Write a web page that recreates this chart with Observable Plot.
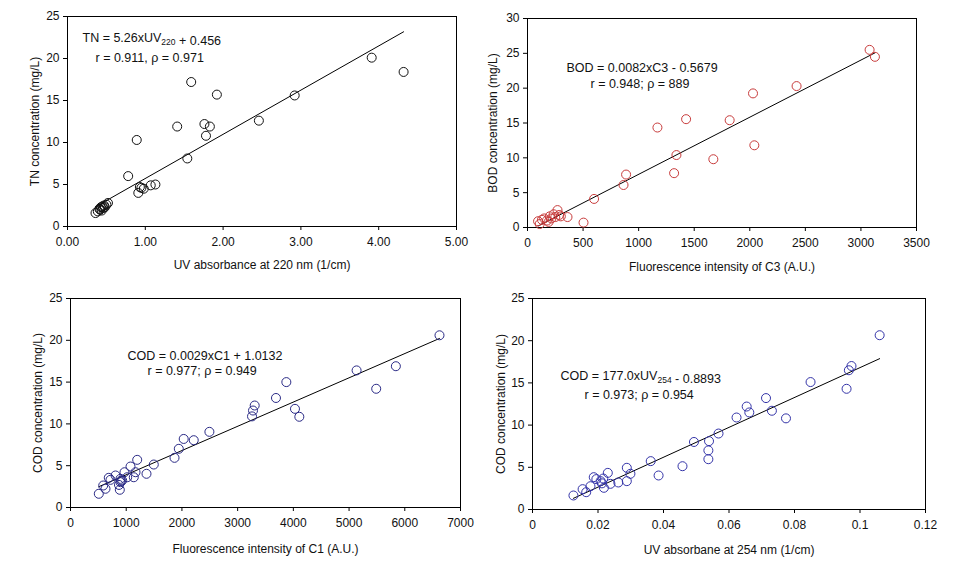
<!DOCTYPE html>
<html>
<head>
<meta charset="utf-8">
<script src="https://cdn.jsdelivr.net/npm/d3@7"></script>
<script src="https://cdn.jsdelivr.net/npm/@observablehq/plot@0.6"></script>
<style>
  html, body { margin: 0; padding: 0; background: #fff; }
  #wrap { position: relative; width: 957px; height: 571px; overflow: hidden; }
  .panel { position: absolute; }
  .panel svg { font-family: "Liberation Sans", Arial, sans-serif; }
</style>
</head>
<body>
<div id="wrap">
  <div class="panel" id="p1" style="left:0px;top:0px"></div>
  <div class="panel" id="p2" style="left:477px;top:0px"></div>
  <div class="panel" id="p3" style="left:0px;top:285px"></div>
  <div class="panel" id="p4" style="left:477px;top:285px"></div>
</div>
<script>
// ---------- Panel 1: TN vs UV220 ----------
const tnUV220 = [0.36,0.39,0.41,0.42,0.43,0.45,0.47,0.50,0.52,0.44,0.46,0.48,
  0.78,0.89,0.91,0.93,0.95,0.98,1.07,1.13,1.41,1.54,1.59,1.76,1.78,1.83,1.92,2.46,2.92,3.91,4.32];
const tnConc = [1.6,1.8,2.1,2.0,2.3,2.4,2.5,2.6,2.8,1.9,2.2,2.3,
  6.0,10.3,4.0,4.7,4.6,4.5,4.9,5.0,11.9,8.1,17.2,12.2,10.8,11.9,15.7,12.6,15.6,20.1,18.4];
const tnFit = [5.26, 0.456];

// ---------- Panel 2: BOD vs C3 ----------
const bodC3 = [95,110,130,150,175,190,200,215,235,250,270,285,300,360,
  504,599,864,887,1169,1319,1340,1427,1672,1819,2029,2041,2421,3078,3126];
const bodConc = [0.9,0.5,1.1,1.3,1.0,0.8,1.6,1.3,1.9,1.5,2.5,1.8,1.6,1.5,
  0.7,4.1,6.1,7.6,14.35,7.8,10.4,15.55,9.8,15.4,19.25,11.8,20.3,25.5,24.5];
const bodFit = [0.0082, -0.5679];

// ---------- Panel 3: COD vs C1 ----------
const codC1 = [508,587,628,687,718,808,897,897,928,885,969,1018,1077,1136,1167,1197,
  1364,1495,1867,1944,2032,2212,2493,3258,3276,3306,3688,3874,4029,4107,5135,5487,5840,6623,870,905];
const codConcC1 = [1.64,2.63,2.24,3.55,3.31,3.83,3.43,3.03,3.23,2.12,4.22,3.62,4.9,3.62,4.22,5.7,
  4.03,5.14,5.94,7.02,8.2,8.05,9.05,10.9,11.6,12.2,13.1,15.0,11.8,10.85,16.4,14.2,16.9,20.6,2.7,3.2];
const codC1Fit = [0.0029, 1.0132];

// ---------- Panel 4: COD vs UV254 ----------
const codUV254 = [0.0125,0.0153,0.0164,0.0177,0.0187,0.0195,0.0208,0.0216,0.0218,0.0230,0.0238,
  0.0262,0.0288,0.0288,0.0299,0.0361,0.0385,0.0458,0.0493,0.0537,0.0537,0.0539,0.0568,0.0623,
  0.0654,0.0662,0.0713,0.0731,0.0774,0.0849,0.0959,0.0966,0.0974,0.1060,0.0212];
const codConcUV = [1.66,2.41,2.05,2.76,3.83,3.6,3.36,3.67,2.57,4.34,3.04,
  3.2,4.94,3.36,4.23,5.73,4.03,5.13,8.0,5.96,7.0,8.1,9.0,10.9,
  12.2,11.5,13.2,11.7,10.8,15.1,14.3,16.5,17.0,20.65,3.1];
const codUVFit = [177.0, -0.8893];

// ---------- helpers ----------
function fitEnds(xs, coef) {
  const [a, b] = d3.extent(xs);
  return [a, b].map(x => ({x, y: coef[0] * x + coef[1]}));
}

// replace "_{...}" in text with subscript tspans
function applySubscripts(svg) {
  d3.select(svg).selectAll("text").each(function() {
    const t = this.textContent;
    if (!t.includes("_{")) return;
    const parts = t.split(/(_\{[^}]*\})/);
    const sel = d3.select(this);
    sel.text(null);
    parts.forEach(p => {
      if (!p) return;
      if (p.startsWith("_{")) {
        sel.append("tspan").attr("font-size", 8.5).attr("dy", 3).text(p.slice(2, -1));
        sel.append("tspan").attr("dy", -3).text("");
      } else {
        sel.append("tspan").text(p);
      }
    });
  });
}

function panel(el, cfg) {
  const data = cfg.xs.map((x, i) => ({x, y: cfg.ys[i]}));
  const chart = Plot.plot({
    width: cfg.width, height: cfg.height,
    marginLeft: cfg.ml, marginRight: cfg.mr, marginTop: cfg.mt, marginBottom: cfg.mb,
    style: {fontSize: "12px", color: "#111", background: "transparent"},
    x: {domain: cfg.xDomain, ticks: cfg.xTicks},
    y: {domain: cfg.yDomain, ticks: cfg.yTicks},
    marks: [
      Plot.frame({stroke: "#000", strokeWidth: 1}),
      Plot.axisX({ticks: cfg.xTicks, tickFormat: cfg.xFormat, tickSize: 4, tickPadding: 7,
        label: cfg.xLabel, labelAnchor: "center", labelArrow: "none", labelOffset: cfg.xLabelOffset,
        stroke: "#000"}),
      Plot.axisY({ticks: cfg.yTicks, tickFormat: d => String(d), tickSize: 4, tickPadding: 4,
        label: cfg.yLabel, labelAnchor: "center", labelArrow: "none", labelOffset: cfg.yLabelOffset,
        stroke: "#000"}),
      Plot.line(fitEnds(cfg.xs, cfg.fit), {x: "x", y: "y", stroke: "#000", strokeWidth: 1}),
      Plot.dot(data, {x: "x", y: "y", r: 4.5, stroke: cfg.color, strokeWidth: 1, fill: "none"}),
      Plot.text([cfg.eq1], {frameAnchor: "top-left", dx: cfg.eq1dx, dy: cfg.eq1dy,
        textAnchor: "start", lineAnchor: "middle", fontSize: 12.5, fill: "#111"}),
      Plot.text([cfg.eq2], {frameAnchor: "top-left", dx: cfg.eq2dx, dy: cfg.eq2dy,
        textAnchor: "start", lineAnchor: "middle", fontSize: 12.5, fill: "#111"})
    ]
  });
  applySubscripts(chart);
  document.getElementById(el).appendChild(chart);
}

panel("p1", {
  width: 478, height: 285, ml: 67, mr: 22, mt: 16, mb: 59,
  xs: tnUV220, ys: tnConc, fit: tnFit,
  xDomain: [0, 5], xTicks: [0, 1, 2, 3, 4, 5], xFormat: d3.format(".2f"),
  yDomain: [0, 25], yTicks: [0, 5, 10, 15, 20, 25],
  xLabel: "UV absorbance at 220 nm (1/cm)", yLabel: "TN concentration (mg/L)",
  xLabelOffset: 42, yLabelOffset: 37, color: "#111",
  eq1: "TN = 5.26xUV_{220} + 0.456", eq1dx: 15, eq1dy: 21,
  eq2: "r = 0.911, ρ = 0.971", eq2dx: 28, eq2dy: 41
});

panel("p2", {
  width: 480, height: 285, ml: 50, mr: 41, mt: 18, mb: 58,
  xs: bodC3, ys: bodConc, fit: bodFit,
  xDomain: [0, 3500], xTicks: [0, 500, 1000, 1500, 2000, 2500, 3000, 3500], xFormat: d => String(d),
  yDomain: [0, 30], yTicks: [0, 5, 10, 15, 20, 25, 30],
  xLabel: "Fluorescence intensity of C3 (A.U.)", yLabel: "BOD concentration (mg/L)",
  xLabelOffset: 43, yLabelOffset: 39, color: "#c83c3c",
  eq1: "BOD = 0.0082xC3 - 0.5679", eq1dx: 39, eq1dy: 49,
  eq2: "r = 0.948; ρ = 889", eq2dx: 63, eq2dy: 65
});

panel("p3", {
  width: 478, height: 286, ml: 70, mr: 18, mt: 13, mb: 64,
  xs: codC1, ys: codConcC1, fit: codC1Fit,
  xDomain: [0, 7000], xTicks: [0, 1000, 2000, 3000, 4000, 5000, 6000, 7000], xFormat: d => String(d),
  yDomain: [0, 25], yTicks: [0, 5, 10, 15, 20, 25],
  xLabel: "Fluorescence intensity of C1 (A.U.)", yLabel: "COD concentration (mg/L)",
  xLabelOffset: 45, yLabelOffset: 37, color: "#2a2a86",
  eq1: "COD = 0.0029xC1 + 1.0132", eq1dx: 57, eq1dy: 57,
  eq2: "r = 0.977; ρ = 0.949", eq2dx: 77, eq2dy: 72
});

panel("p4", {
  width: 480, height: 286, ml: 55, mr: 32, mt: 13, mb: 62,
  xs: codUV254, ys: codConcUV, fit: codUVFit,
  xDomain: [0, 0.12], xTicks: [0, 0.02, 0.04, 0.06, 0.08, 0.1, 0.12], xFormat: d => String(+d.toFixed(4)),
  yDomain: [0, 25], yTicks: [0, 5, 10, 15, 20, 25],
  xLabel: "UV absorbane at 254 nm (1/cm)", yLabel: "COD concentration (mg/L)",
  xLabelOffset: 44, yLabelOffset: 36, color: "#3434a8",
  eq1: "COD = 177.0xUV_{254} - 0.8893", eq1dx: 28, eq1dy: 77,
  eq2: "r = 0.973; ρ = 0.954", eq2dx: 52, eq2dy: 96
});
</script>
</body>
</html>
